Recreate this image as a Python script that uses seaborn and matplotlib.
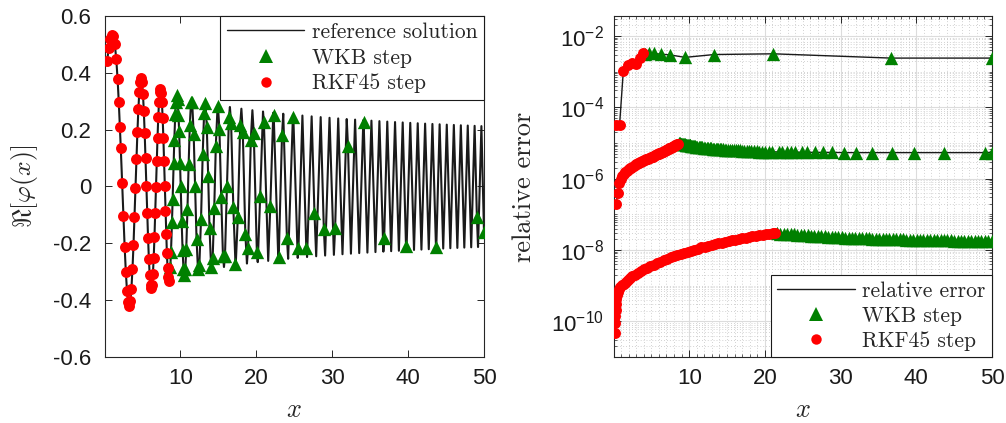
import numpy as np
import pandas as pd
import matplotlib
matplotlib.use("Agg")
import matplotlib.pyplot as plt
import seaborn as sns
from matplotlib.ticker import FixedLocator, FixedFormatter, MultipleLocator, LogLocator, NullFormatter
from matplotlib.lines import Line2D

# ---------------- data (read / estimated from the reference) ----------------
# left panel: RKF45 step points (x, Re[phi])
rk_x = [0.35, 0.55, 0.75, 0.95, 1.15, 1.35, 1.55, 1.72, 1.88, 2.03, 2.145, 2.320, 2.489, 2.653,
        2.811, 2.965, 3.115, 3.262, 3.405, 3.546, 3.683, 3.819, 3.952, 4.082, 4.211, 4.337, 4.462,
        4.585, 4.707, 4.827, 4.945, 5.062, 5.178, 5.292, 5.406, 5.517, 5.629, 5.738, 5.847, 5.955,
        6.062, 6.167, 6.273, 6.376, 6.480, 6.582, 6.684, 6.785, 6.885, 6.985, 7.083, 7.181, 7.279,
        7.375, 7.472, 7.567, 7.662, 7.756, 7.850, 7.943, 8.036, 8.128, 8.219, 8.310, 8.401, 8.491]
rk_y = [0.443, 0.486, 0.518, 0.534, 0.531, 0.503, 0.448, 0.380, 0.298, 0.209, 0.136, 0.014, -0.105,
        -0.212, -0.301, -0.368, -0.408, -0.420, -0.403, -0.359, -0.292, -0.207, -0.109, -0.005,
        0.097, 0.192, 0.272, 0.332, 0.369, 0.381, 0.366, 0.327, 0.267, 0.189, 0.099, 0.003, -0.092,
        -0.180, -0.255, -0.312, -0.347, -0.358, -0.345, -0.309, -0.252, -0.178, -0.093, -0.002,
        0.088, 0.172, 0.243, 0.298, 0.331, 0.342, 0.330, 0.296, 0.241, 0.171, 0.089, 0.002, -0.085,
        -0.166, -0.235, -0.287, -0.320, -0.331]

# left panel: WKB step points
wkb_x = [8.670, 8.758, 8.891, 8.978, 9.109, 9.195, 9.324, 9.409, 9.538, 9.622, 9.748, 9.833, 9.957,
         10.040, 10.163, 10.286, 10.408, 10.530, 10.650, 10.771,
         10.930, 11.087, 11.244, 11.400, 11.554, 11.746, 11.936, 12.125, 12.312, 12.498, 12.719, 12.938,
         13.120, 13.302, 13.479, 13.657, 13.834, 14.044, 14.252, 14.460, 14.667, 14.904, 15.140,
         15.377, 15.608, 15.872, 16.133, 16.394, 16.684, 16.971, 17.257, 17.570, 17.879, 18.218,
         18.555, 18.917, 19.278, 19.662, 20.074, 20.510,
         20.998, 21.847, 22.293, 22.953, 23.389, 24.034, 24.881, 25.558, 26.585, 27.665, 28.896,
         30.386, 32.075, 34.143, 36.847, 39.723, 43.718, 49.063, 50.0]
wkb_y = [-0.285, -0.232, -0.125, -0.043, 0.084, 0.162, 0.256, 0.298, 0.321, 0.309, 0.253, 0.194, 0.082,
         0.000, -0.121, -0.223, -0.290, -0.313, -0.289, -0.220,
         -0.080, 0.080, 0.218, 0.297, 0.296, 0.186, 0.000, -0.184, -0.291, -0.277, -0.114, 0.114,
         0.257, 0.293, 0.208, 0.038, -0.146, -0.282, -0.252, -0.075, 0.144, 0.285, 0.202,
         -0.037, -0.246, -0.245, 0.000, 0.243, 0.222, -0.072, -0.274, -0.106, 0.218, 0.193,
         -0.166, -0.215, 0.164, 0.189, -0.231, -0.035,
         0.228, -0.068, 0.251, -0.249, 0.181, -0.180, 0.244, -0.217, -0.215, -0.094, -0.148,
         -0.146, 0.144, 0.226, -0.182, -0.208, -0.212, -0.107, -0.161]

# left panel: reference solution, local extrema beyond the RKF45 region
ext_x = [9.538, 10.530, 11.477, 12.387, 13.265, 14.114, 14.938, 15.741, 16.523, 17.287, 18.035,
         18.768, 19.485, 20.191, 20.884, 21.567, 22.238, 22.900, 23.551, 24.195, 24.830, 25.457,
         26.075, 26.687, 27.292, 27.890, 28.482, 29.068, 29.647, 30.222, 30.791, 31.355, 31.914,
         32.467, 33.016, 33.561, 34.102, 34.637, 35.170, 35.699, 36.220, 36.741, 37.256, 37.770,
         38.280, 38.787, 39.289, 39.790, 40.285, 40.778, 41.269, 41.757, 42.241, 42.724, 43.204,
         43.680, 44.155, 44.626, 45.096, 45.562, 46.027, 46.488, 46.949, 47.405, 47.860, 48.313,
         48.764, 49.213, 49.658]
ext_y = [0.321, -0.313, 0.3065, -0.3007, 0.2956, -0.2911, 0.2870, -0.2833, 0.2798, -0.2767, 0.2738,
         -0.2711, 0.2685, -0.2662, 0.2639, -0.2618, 0.2598, -0.2579, 0.2561, -0.2544, 0.2527, -0.2512,
         0.2497, -0.2482, 0.2468, -0.2455, 0.2442, -0.2430, 0.2418, -0.2406, 0.2395, -0.2384, 0.2374,
         -0.2364, 0.2354, -0.2344, 0.2335, -0.2326, 0.2317, -0.2308, 0.2300, -0.2292, 0.2284, -0.2276,
         0.2268, -0.2261, 0.2254, -0.2246, 0.2240, -0.2233, 0.2226, -0.2220, 0.2213, -0.2207, 0.2201,
         -0.2195, 0.2189, -0.2183, 0.2177, -0.2172, 0.2166, -0.2161, 0.2155, -0.2150, 0.2145, -0.2140,
         0.2135, -0.2130, 0.2125]

# right panel: log10(relative error), middle tolerance (same steps as left panel)
mid_rk_log = [-6.70, -6.40, -6.12, -6.02, -5.93, -5.86, -5.82, -5.79, -5.76, -5.73, -5.71, -5.69,
              -5.66, -5.64, -5.62, -5.60, -5.59, -5.57, -5.56, -5.54, -5.53, -5.51, -5.50, -5.49,
              -5.47, -5.46, -5.45, -5.44, -5.43, -5.41, -5.40, -5.39, -5.38, -5.37, -5.36, -5.34,
              -5.33, -5.32, -5.31, -5.30, -5.29, -5.28, -5.27, -5.26, -5.25, -5.24, -5.23, -5.22,
              -5.21, -5.20, -5.19, -5.17, -5.16, -5.15, -5.14, -5.13, -5.12, -5.11, -5.10, -5.09,
              -5.08, -5.07, -5.06, -5.05, -5.04, -5.03]
mid_wkb_log = [-5.01, -5.01, -5.02, -5.02, -5.03, -5.03, -5.04, -5.04, -5.05, -5.05, -5.06, -5.06,
               -5.06, -5.07, -5.07, -5.08, -5.08, -5.08, -5.09, -5.09,
               -5.10, -5.10, -5.11, -5.11, -5.12, -5.12, -5.13, -5.13, -5.14, -5.14, -5.15, -5.15,
               -5.16, -5.16, -5.165, -5.17, -5.17, -5.175, -5.18, -5.18, -5.185, -5.19, -5.19,
               -5.195, -5.20, -5.20, -5.205, -5.21, -5.21, -5.215, -5.22, -5.22, -5.225, -5.23,
               -5.23, -5.235, -5.24, -5.24, -5.245, -5.245,
               -5.25, -5.25, -5.255, -5.255, -5.26, -5.26, -5.26, -5.26, -5.265, -5.265, -5.265,
               -5.27, -5.27, -5.27, -5.27, -5.27, -5.27, -5.27, -5.27]

# right panel: loose tolerance
top_rk_x = [0.30, 0.80, 1.30, 1.85, 2.45, 3.00, 3.45, 3.85]
top_rk_log = [-4.50, -4.50, -2.97, -2.80, -2.77, -2.78, -2.62, -2.47]
top_wkb_x = [4.15, 4.70, 5.30, 6.25, 7.45, 9.45, 13.30, 21.10, 36.65, 50.0]
top_wkb_log = [-2.50, -2.47, -2.49, -2.51, -2.53, -2.60, -2.52, -2.50, -2.62, -2.62]

# right panel: tight tolerance
low_rk_x = [0.20, 0.22, 0.25, 0.28, 0.32, 0.38, 0.45, 0.55, 0.7, 0.9, 1.1, 1.35, 1.6, 1.9, 2.2, 2.5,
            2.85, 3.2, 3.6, 4.0, 4.4, 4.85, 5.3, 5.75, 6.2, 6.65, 7.1, 7.55, 8.0, 8.45, 8.9, 9.35,
            9.8, 10.25, 10.7, 11.15, 11.6, 12.05, 12.5, 12.95, 13.4, 13.85, 14.3, 14.75, 15.2,
            15.65, 16.1, 16.55, 17.0, 17.45, 17.9, 18.35, 18.8, 19.25, 19.7, 20.15, 20.6, 21.05, 21.4]
low_rk_log = [-10.34, -10.05, -9.85, -9.68, -9.52, -9.38, -9.27, -9.18, -9.10, -9.04, -8.99, -8.94,
              -8.89, -8.84, -8.79, -8.74, -8.69, -8.64, -8.59, -8.54, -8.50, -8.45, -8.41, -8.37,
              -8.33, -8.29, -8.25, -8.21, -8.18, -8.14, -8.11, -8.08, -8.05, -8.02, -7.99, -7.96,
              -7.93, -7.91, -7.88, -7.86, -7.83, -7.81, -7.79, -7.77, -7.75, -7.73, -7.71, -7.69,
              -7.67, -7.65, -7.64, -7.62, -7.60, -7.59, -7.57, -7.56, -7.54, -7.53, -7.52]
low_wkb_x = [21.6, 22.05, 22.5, 22.95, 23.4, 23.85, 24.3, 24.75, 25.2, 25.65, 26.1, 26.55, 27.0,
             27.45, 27.9, 28.35, 28.8, 29.25, 29.7, 30.15, 30.6, 31.05, 31.5, 31.95, 32.4, 32.85,
             33.3, 33.75, 34.2, 34.65, 35.1, 35.55, 36.0, 36.45, 36.9, 37.35, 37.8, 38.25, 38.7,
             39.15, 39.6, 40.05, 40.5, 40.95, 41.4, 41.85, 42.3, 42.75, 43.2, 43.65, 44.1, 44.55,
             45.0, 45.45, 45.9, 46.35, 46.8, 47.25, 47.7, 48.15, 48.6, 49.05, 49.5, 50.0]
low_wkb_log = [-7.53, -7.54, -7.545, -7.55, -7.56, -7.565, -7.57, -7.58, -7.585, -7.59, -7.595, -7.60,
               -7.61, -7.615, -7.62, -7.625, -7.63, -7.635, -7.64, -7.645, -7.65, -7.65, -7.655,
               -7.66, -7.665, -7.67, -7.67, -7.675, -7.68, -7.68, -7.685, -7.69, -7.69, -7.695,
               -7.70, -7.70, -7.70, -7.705, -7.71, -7.71, -7.71, -7.715, -7.72, -7.72, -7.72, -7.72,
               -7.725, -7.725, -7.73, -7.73, -7.73, -7.73, -7.735, -7.735, -7.735, -7.74, -7.74,
               -7.74, -7.74, -7.74, -7.745, -7.745, -7.745, -7.745]

left_yticks = [-0.6, -0.4, -0.2, 0, 0.2, 0.4, 0.6]
left_yticklabels = ["-0.6", "-0.4", "-0.2", "0", "0.2", "0.4", "0.6"]
xticks = [10, 20, 30, 40, 50]
xticklabels = ["10", "20", "30", "40", "50"]
right_yticks = [1e-10, 1e-8, 1e-6, 1e-4, 1e-2]
right_yticklabels = [r"$\mathregular{10^{-10}}$", r"$\mathregular{10^{-8}}$", r"$\mathregular{10^{-6}}$",
                     r"$\mathregular{10^{-4}}$", r"$\mathregular{10^{-2}}$"]

# ---------------- style ----------------
sns.set_theme(style="ticks")
plt.rcParams["font.family"] = ["Liberation Sans", "DejaVu Sans"]
plt.rcParams["mathtext.fontset"] = "custom"
plt.rcParams["mathtext.rm"] = "Liberation Sans"
plt.rcParams["mathtext.it"] = "Liberation Sans:italic"
plt.rcParams["mathtext.bf"] = "Liberation Sans:bold"

GREEN = "#008000"
RED = "#ff0000"
AXC = "#262626"
TRI_S = 92
DOT_S = 62

fig = plt.figure(figsize=(10.06, 4.23), dpi=100)
W, H = 1006.0, 423.0
ax1 = fig.add_axes([104.5 / W, (H - 357) / H, 379.5 / W, 341 / H])
ax2 = fig.add_axes([613.5 / W, (H - 357) / H, 378.5 / W, 341 / H])

for ax in (ax1, ax2):
    for sp in ax.spines.values():
        sp.set_color(AXC)
        sp.set_linewidth(0.8)
        sp.set_visible(True)

# ---------------- left panel ----------------
ref = pd.DataFrame({"x": rk_x + wkb_x + ext_x, "y": rk_y + wkb_y + ext_y})
ref = ref.sort_values("x").drop_duplicates("x").reset_index(drop=True)
sns.lineplot(data=ref, x="x", y="y", sort=False, estimator=None, color="k", linewidth=1.5,
             ax=ax1, zorder=2, legend=False)
sns.scatterplot(x=wkb_x, y=wkb_y, marker="^", s=TRI_S, color=GREEN, edgecolor=GREEN, linewidth=0,
                ax=ax1, zorder=3, legend=False)
sns.scatterplot(x=rk_x, y=rk_y, marker="o", s=DOT_S, color=RED, edgecolor=RED, linewidth=0,
                ax=ax1, zorder=4, legend=False)

ax1.set_xlim(0, 50)
ax1.set_ylim(-0.6, 0.6)
ax1.xaxis.set_major_locator(FixedLocator(xticks))
ax1.xaxis.set_major_formatter(FixedFormatter(xticklabels))
ax1.yaxis.set_major_locator(FixedLocator(left_yticks))
ax1.yaxis.set_major_formatter(FixedFormatter(left_yticklabels))
ax1.tick_params(which="major", direction="in", length=5, width=0.7, color=AXC, top=True, right=True,
                labelsize=16, labelcolor="#1a1a1a")
ax1.tick_params(axis="y", pad=9.5)
ax1.tick_params(axis="x", pad=8)

ax1.set_xlabel("$x$", fontsize=19, math_fontfamily="cm")
ax1.xaxis.set_label_coords(0.5, -0.176)
ax1.xaxis.label.set_va("baseline")
ax1.set_ylabel(r"$\Re[\varphi(x)]$", fontsize=18.5, math_fontfamily="cm")
ax1.yaxis.set_label_coords(-0.21, 0.5)
ax1.yaxis.label.set_va("center")

h_line = Line2D([], [], color="k", lw=1.0)
h_wkb = Line2D([], [], ls="none", marker="^", color=GREEN, markersize=9.5, markeredgewidth=0)
h_rk = Line2D([], [], ls="none", marker="o", color=RED, markersize=7.5, markeredgewidth=0)
leg1 = ax1.legend([h_line, h_wkb, h_rk], ["reference solution", "WKB step", "RKF45 step"],
                  loc="upper right", bbox_to_anchor=(1, 1), borderaxespad=0, fancybox=False,
                  framealpha=1, edgecolor="k", handlelength=3.6, handletextpad=0.35,
                  borderpad=0.3, labelspacing=0.28, prop={"family": "cmr10", "size": 15.5})
leg1.get_frame().set_linewidth(0.8)

# ---------------- right panel ----------------
ax2.set_yscale("log")
series = [(top_rk_x, top_rk_log, top_wkb_x, top_wkb_log),
          (rk_x, mid_rk_log, wkb_x, mid_wkb_log),
          (low_rk_x, low_rk_log, low_wkb_x, low_wkb_log)]
for rx, rl, wx, wl in series:
    xs = list(rx) + list(wx)
    ys = list(10.0 ** np.array(rl)) + list(10.0 ** np.array(wl))
    sns.lineplot(x=xs, y=ys, sort=False, estimator=None, color="k", linewidth=1.0, ax=ax2,
                 zorder=2, legend=False)
for rx, rl, wx, wl in series:
    sns.scatterplot(x=wx, y=10.0 ** np.array(wl), marker="^", s=TRI_S, color=GREEN, edgecolor=GREEN,
                    linewidth=0, ax=ax2, zorder=3, legend=False)
    sns.scatterplot(x=rx, y=10.0 ** np.array(rl), marker="o", s=DOT_S, color=RED, edgecolor=RED,
                    linewidth=0, ax=ax2, zorder=4, legend=False)

ax2.set_xlim(0, 50)
ax2.set_ylim(1e-11, 10 ** -1.44)
ax2.xaxis.set_major_locator(FixedLocator(xticks))
ax2.xaxis.set_major_formatter(FixedFormatter(xticklabels))
ax2.xaxis.set_minor_locator(MultipleLocator(1))
ax2.yaxis.set_major_locator(FixedLocator(right_yticks))
ax2.yaxis.set_major_formatter(FixedFormatter(right_yticklabels))
ax2.yaxis.set_minor_locator(LogLocator(base=10, subs=np.arange(1, 10), numticks=100))
ax2.yaxis.set_minor_formatter(NullFormatter())
ax2.tick_params(which="major", direction="in", length=5, width=0.7, color=AXC, top=True, right=True,
                labelsize=16, labelcolor="#1a1a1a")
ax2.tick_params(which="minor", direction="in", length=2.5, width=0.5, color=AXC, top=True, right=True)
ax2.tick_params(axis="y", pad=7)
ax2.tick_params(axis="x", pad=8)
ax2.set_axisbelow(True)
ax2.grid(True, which="major", color="#dcdcdc", linewidth=0.8, linestyle="-")
ax2.grid(True, which="minor", color="#c4c4c4", linewidth=0.6, linestyle=(0, (1, 2.5)))

ax2.set_xlabel("$x$", fontsize=19, math_fontfamily="cm")
ax2.xaxis.set_label_coords(0.5, -0.176)
ax2.xaxis.label.set_va("baseline")
ax2.set_ylabel("relative error", fontsize=19, family="cmr10")
ax2.yaxis.set_label_coords(-0.235, 0.5)
ax2.yaxis.label.set_va("center")

leg2 = ax2.legend([h_line, h_wkb, h_rk], ["relative error", "WKB step", "RKF45 step"],
                  loc="lower right", bbox_to_anchor=(1, 0), borderaxespad=0, fancybox=False,
                  framealpha=1, edgecolor="k", handlelength=3.6, handletextpad=0.35,
                  borderpad=0.3, labelspacing=0.25, prop={"family": "cmr10", "size": 15.5})
leg2.get_frame().set_linewidth(0.8)

fig.savefig("out.png", dpi=100)
